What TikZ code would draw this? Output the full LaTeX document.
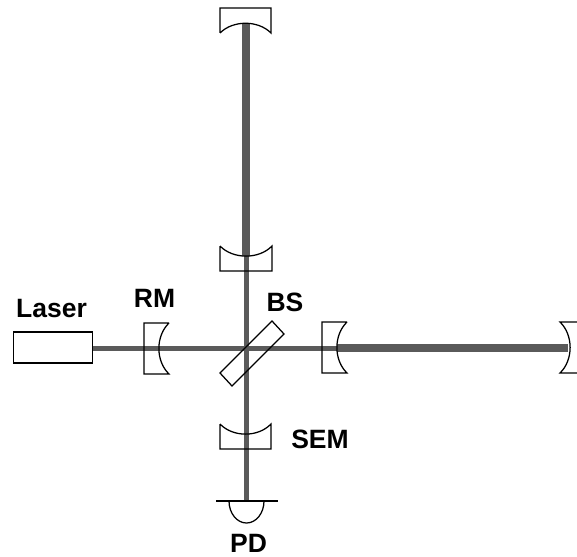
\documentclass[tikz,border=0pt]{standalone}
\usepackage{fontspec}
\setmainfont{Liberation Sans}
\tikzset{
  beamthin/.style={draw=beamgray,line width=5pt},
  beamthick/.style={draw=beamgray,line width=8pt},
  optic/.style={draw=black,line width=1.25pt,line join=miter},
  lbl/.style={font=\bfseries\fontsize{26.5}{26.5}\selectfont,inner sep=0pt,text=black,anchor=base}
}
\definecolor{beamgray}{HTML}{5A5A5A}
\begin{document}
\begin{tikzpicture}[x=1pt,y=-1pt]
\useasboundingbox (0,0) rectangle (577,556);
% named beam points
\coordinate (laserout) at (93,348);
\coordinate (bscenter) at (246,348);
\coordinate (eastitm) at (337,348);
\coordinate (eastend) at (568,348);
\coordinate (northitm) at (246,256);
\coordinate (northend) at (246,24);
\coordinate (pdtop) at (246,501);
% beams
\draw[beamthin] (laserout) -- (eastitm);
\draw[beamthin] (northitm) -- (pdtop);
\draw[beamthick] (eastitm) -- (eastend);
\draw[beamthick] (northitm) -- (northend);
% laser
\node[optic,draw,minimum width=79pt,minimum height=31pt,inner sep=0pt] (laser) at (53,347.5) {};
% north end mirror
\draw[optic] (220,33) -- (220,8) -- (271,8) -- (271,33) .. controls (258,20) and (233,20) .. (220,33);
% north input mirror
\draw[optic] (220,246) -- (220,271) -- (272,271) -- (272,246) .. controls (259,259.5) and (233,259.5) .. (220,246);
% signal extraction mirror
\draw[optic] (220,424) -- (220,449) -- (271,449) -- (271,424) .. controls (258,437.5) and (233,437.5) .. (220,424);
% recycling mirror
\draw[optic] (169,323) -- (144,323) -- (144,374) -- (169,374) .. controls (155.5,361) and (155.5,336) .. (169,323);
% east input mirror
\draw[optic] (347,322) -- (322,322) -- (322,373) -- (347,373) .. controls (333.5,360) and (333.5,335) .. (347,322);
% east end mirror
\draw[optic] (577,322) -- (560,322) .. controls (573.5,335) and (573.5,360) .. (560,373) -- (577,373);
% beam splitter
\draw[optic] (272,321) -- (284,334) -- (232,386) -- (220,373) -- cycle;
% photodiode
\draw[optic] (216,501) -- (278,501);
\draw[optic] (229,501) arc[start angle=180,end angle=0,x radius=17.5pt,y radius=-22pt];
% labels
\node[lbl] (tlaser) at (51.5,317) {Laser};
\node[lbl] (trm) at (154.5,307) {RM};
\node[lbl] (tbs) at (285,311) {BS};
\node[lbl] (tsem) at (320,448) {SEM};
\node[lbl] (tpd) at (248.5,552) {PD};
\end{tikzpicture}
\end{document}
